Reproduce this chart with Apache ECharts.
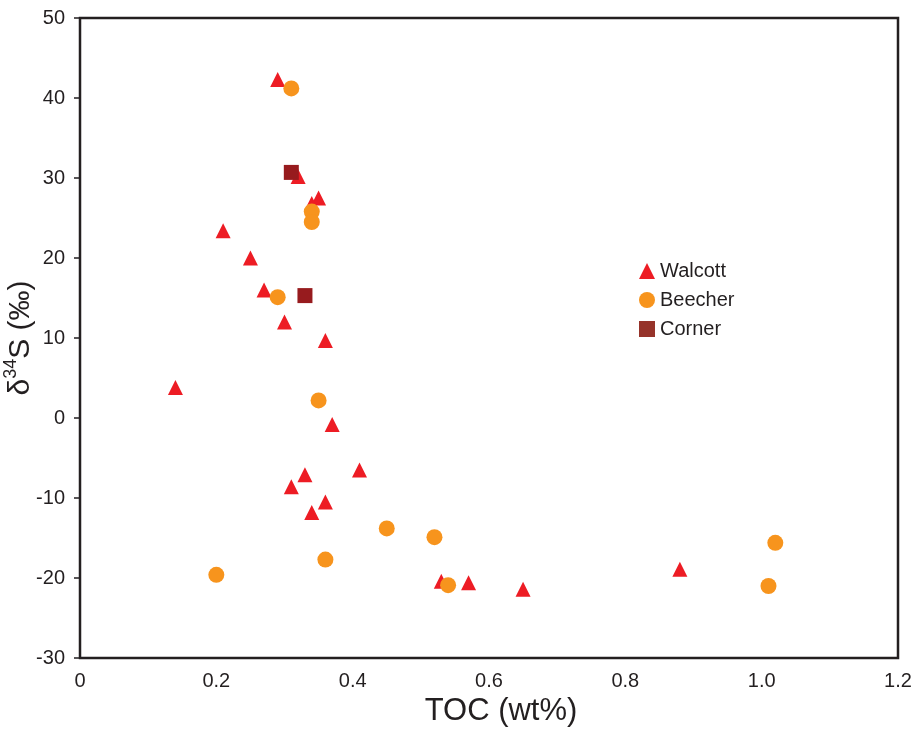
<!DOCTYPE html>
<html>
<head>
<meta charset="utf-8">
<script src="https://cdn.jsdelivr.net/npm/echarts@6/dist/echarts.min.js"></script>
<style>
  html, body { margin: 0; padding: 0; background: #fff; }
  #chart { width: 922px; height: 730px; }
</style>
</head>
<body>
<div id="chart"></div>
<script>
// TOC (wt%) vs δ34S (‰) for three localities
const walcott = [
  [0.29, 42.3], [0.32, 30.2], [0.35, 27.5], [0.34, 26.8], [0.21, 23.4],
  [0.25, 20.0], [0.27, 16.0], [0.30, 12.0], [0.36, 9.7], [0.14, 3.8],
  [0.37, -0.8], [0.41, -6.5], [0.33, -7.1], [0.31, -8.6], [0.36, -10.5],
  [0.34, -11.8], [0.53, -20.4], [0.57, -20.6], [0.65, -21.4], [0.88, -18.9]
];
const beecher = [
  [0.31, 41.2], [0.34, 25.8], [0.34, 24.5], [0.29, 15.1], [0.35, 2.2],
  [0.45, -13.8], [0.52, -14.9], [0.20, -19.6], [0.36, -17.7], [0.54, -20.9],
  [1.02, -15.6], [1.01, -21.0]
];
const corner = [
  [0.31, 30.7], [0.33, 15.3]
];
const xTicks = [0, 0.2, 0.4, 0.6, 0.8, 1.0, 1.2];
const yTicks = [-30, -20, -10, 0, 10, 20, 30, 40, 50];

const font = 'Liberation Sans, Arial, Helvetica, sans-serif';
const ink = '#231f20';
const chart = echarts.init(document.getElementById('chart'));
chart.setOption({
  animation: false,
  backgroundColor: '#fff',
  textStyle: { fontFamily: font },
  grid: {
    left: 80, top: 18, right: 24, bottom: 72,
    containLabel: false, outerBoundsMode: 'none',
    show: true, borderColor: ink, borderWidth: 2.5, backgroundColor: 'transparent'
  },
  legend: {
    orient: 'vertical',
    left: 634, top: 256,
    itemWidth: 16, itemHeight: 16, itemGap: 9,
    textStyle: { fontSize: 20, color: ink, fontFamily: font },
    data: [
      { name: 'Walcott', icon: 'triangle' },
      { name: 'Beecher', icon: 'circle' },
      { name: 'Corner', icon: 'rect', itemStyle: { color: '#96332a' } }
    ]
  },
  xAxis: {
    type: 'value',
    min: xTicks[0], max: xTicks[xTicks.length - 1], interval: 0.2,
    name: 'TOC (wt%)', nameLocation: 'middle', nameGap: 38,
    nameTextStyle: { fontSize: 31, color: ink, fontFamily: font, padding: [0, 0, 0, 24] },
    axisLine: { show: false },
    axisTick: { show: false },
    splitLine: { show: false },
    axisLabel: {
      fontSize: 20, color: ink, margin: 13, fontFamily: font,
      formatter: v => (v === 0 ? '0' : v.toFixed(1))
    }
  },
  yAxis: {
    type: 'value',
    min: yTicks[0], max: yTicks[yTicks.length - 1], interval: 10,
    name: '{a|δ}{s|34}{a|S (‰)}', nameLocation: 'middle', nameGap: 44, nameRotate: 90,
    nameMoveOverlap: false,
    nameTextStyle: {
      color: ink, fontFamily: font,
      rich: {
        a: { fontSize: 30, color: ink, fontFamily: font, lineHeight: 34, verticalAlign: 'bottom' },
        s: { fontSize: 18, color: ink, fontFamily: font, lineHeight: 34, verticalAlign: 'top' }
      }
    },
    axisLine: { show: false },
    axisTick: { show: true, inside: false, length: 6, lineStyle: { color: ink, width: 1.5 } },
    splitLine: { show: false },
    axisLabel: { fontSize: 20, color: ink, margin: 15, fontFamily: font }
  },
  series: [
    {
      name: 'Walcott', type: 'scatter', data: walcott,
      symbol: 'triangle', symbolSize: 15,
      itemStyle: { color: '#ed1c24', opacity: 1 }
    },
    {
      name: 'Beecher', type: 'scatter', data: beecher,
      symbol: 'circle', symbolSize: 16,
      itemStyle: { color: '#f7941d', opacity: 1 }
    },
    {
      name: 'Corner', type: 'scatter', data: corner,
      symbol: 'rect', symbolSize: 15,
      itemStyle: { color: '#971b1e', opacity: 1 }
    }
  ]
});
</script>
</body>
</html>
